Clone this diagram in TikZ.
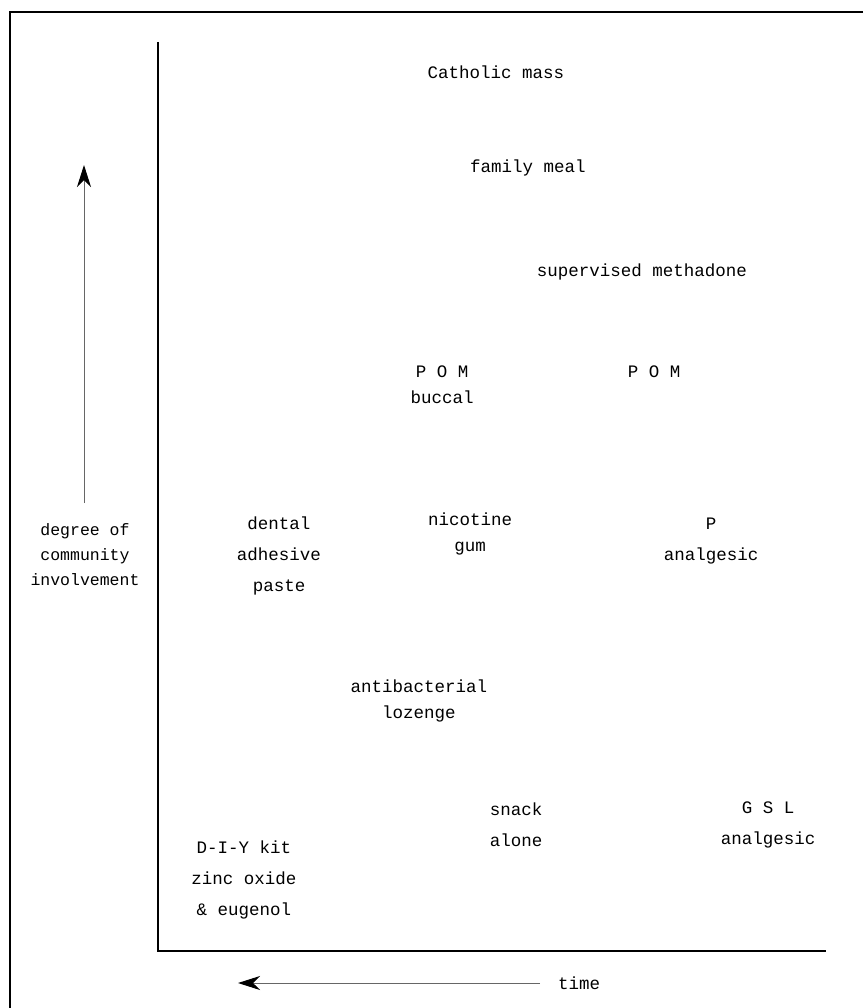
\documentclass[tikz,border=0pt]{standalone}
\usepackage{fontspec}
\setmainfont{Liberation Mono}
\usetikzlibrary{arrows.meta}
\begin{document}
\begin{tikzpicture}[x=1pt,y=-1pt,
  lbl/.style={align=center, inner sep=0pt, font=\fontsize{17.5}{31}\selectfont},
  tight/.style={align=center, inner sep=0pt, font=\fontsize{17.5}{26}\selectfont},
  axislbl/.style={align=center, inner sep=0pt, font=\fontsize{16.5}{25}\selectfont},
  axisline/.style={line width=1.2pt, black},
  frameline/.style={line width=1.5pt, black},
  dirarrow/.style={line width=1pt, black!60, -{Stealth[length=22pt,width=14pt,inset=7pt,color=black]}}]
\useasboundingbox (0,0) rectangle (863,1008);
% frame
\draw[frameline] (863,12) -- (10,12) -- (10,1008);
% axes
\coordinate (ytop) at (158,42);
\coordinate (origin) at (158,951);
\coordinate (xend) at (826,951);
\draw[axisline] (ytop) -- (origin) -- (xend);
% vertical direction arrow
\coordinate (vstart) at (84,503);
\coordinate (vend) at (84,165);
\draw[dirarrow] (vstart) -- (vend);
\node[axislbl] (ylabel) at (85,555) {degree of\\community\\involvement};
% time arrow
\node[lbl, anchor=west] (time) at (558,983) {time};
\coordinate (tstart) at (540,983);
\coordinate (tend) at (238,983);
\draw[dirarrow] (tstart) -- (tend);
% items
\node[lbl] (mass) at (496,72) {Catholic mass};
\node[lbl] (meal) at (528,168) {family meal};
\node[lbl] (methadone) at (642,272) {supervised methadone};
\node[tight] (pombuccal) at (442,385) {P O M\\buccal};
\node[lbl] (pom) at (654,372) {P O M};
\node[lbl] (dental) at (279,556) {dental\\adhesive\\paste};
\node[tight] (nicotine) at (470,534) {nicotine\\gum};
\node[lbl] (panalg) at (711,541) {P\\analgesic};
\node[tight] (lozenge) at (419,701) {antibacterial\\lozenge};
\node[lbl] (snack) at (516,825) {snack\\alone};
\node[lbl] (gsl) at (768,825) {G S L\\analgesic};
\node[lbl] (diy) at (244,880) {D-I-Y kit\\zinc oxide\\\& eugenol};
\end{tikzpicture}
\end{document}
